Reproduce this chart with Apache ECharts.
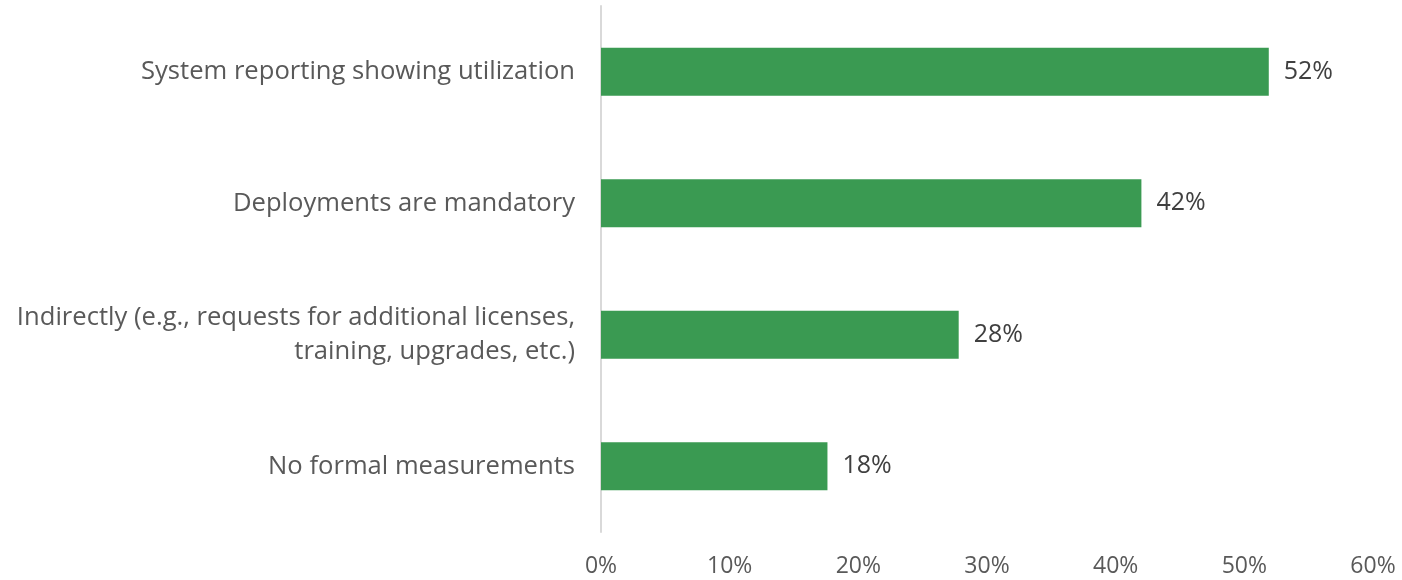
<!DOCTYPE html>
<html>
<head>
<meta charset="utf-8">
<script src="https://cdn.jsdelivr.net/npm/echarts@6/dist/echarts.min.js"></script>
<style>
html,body{margin:0;padding:0;background:#fff;}
#chart{width:1402px;height:580px;}
</style>
</head>
<body>
<div id="chart"></div>
<script>
const categories = [
  "System reporting showing utilization",
  "Deployments are mandatory",
  "Indirectly (e.g., requests for additional licenses,\ntraining, upgrades, etc.)",
  "No formal measurements"
];
const values = [51.9, 42, 27.8, 17.6];
const xTicks = [0, 10, 20, 30, 40, 50, 60];

const chart = echarts.init(document.getElementById('chart'), null, {renderer: 'canvas'});
chart.setOption({
  animation: false,
  grid: {left: 601, right: 29, top: 6, bottom: 48, containLabel: false},
  xAxis: {
    type: 'value',
    min: xTicks[0],
    max: xTicks[xTicks.length - 1],
    interval: 10,
    axisLine: {show: false},
    axisTick: {show: false},
    splitLine: {show: false},
    axisLabel: {
      formatter: v => v + '%',
      color: '#595959',
      fontSize: 23,
      fontFamily: 'Open Sans',
      margin: 23
    }
  },
  yAxis: {
    type: 'category',
    inverse: true,
    data: categories,
    axisLine: {show: true, lineStyle: {color: '#d9d9d9', width: 2}},
    axisTick: {show: false},
    axisLabel: {
      color: '#595959',
      fontSize: 25.6,
      fontFamily: 'Open Sans',
      margin: 26,
      align: 'right',
      lineHeight: 34,
      padding: [3, 0, 0, 0]
    }
  },
  series: [{
    type: 'bar',
    data: values,
    barWidth: 48,
    itemStyle: {color: '#3a9a52'},
    label: {
      show: true,
      position: 'right',
      distance: 15,
      formatter: p => Math.round(p.value) + '%',
      color: '#404040',
      fontSize: 25,
      fontFamily: 'Open Sans'
    }
  }]
});
</script>
</body>
</html>
